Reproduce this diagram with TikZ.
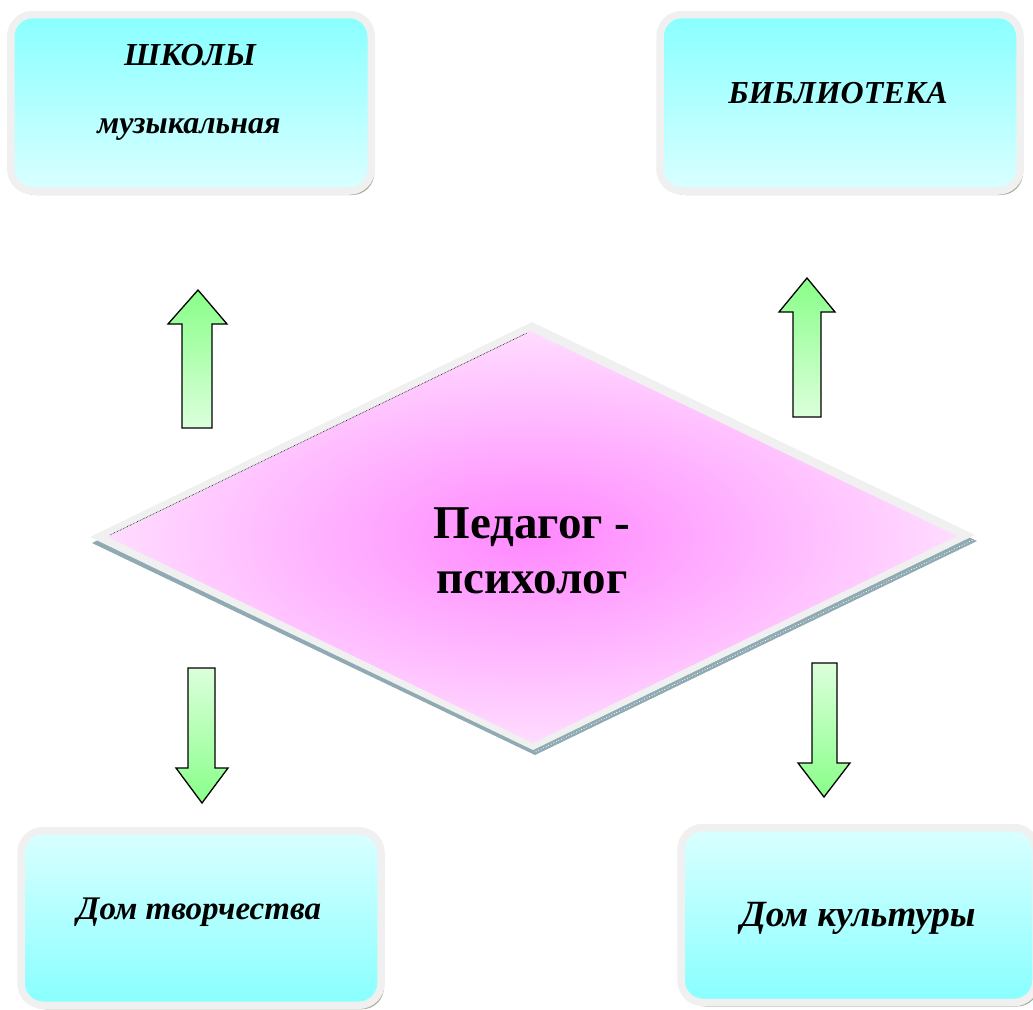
\documentclass[tikz,border=0pt]{standalone}
\usepackage{fontspec}
\setmainfont{Liberation Serif}
\usetikzlibrary{shadows}
\definecolor{cyanD}{HTML}{88FFFF}
\definecolor{cyanL}{HTML}{DAFFFF}
\definecolor{frameG}{HTML}{F0F0F0}
\definecolor{shadowO}{HTML}{A9AD98}
\definecolor{greenD}{HTML}{88FF88}
\definecolor{greenL}{HTML}{DCFFDC}
\definecolor{pinkD}{HTML}{FF88FF}
\definecolor{pinkL}{HTML}{FFDCFF}
\definecolor{dshadow}{HTML}{8FAAB2}
\tikzset{
  cbox/.style={rounded corners=22pt, draw=frameG, line width=7.5pt,
    drop shadow={shadow xshift=3pt, shadow yshift=-4pt, fill=shadowO, opacity=1}},
  cboxdown/.style={cbox, top color=cyanD, bottom color=cyanL},
  cboxup/.style={cbox, top color=cyanL, bottom color=cyanD},
  btext/.style={font=\bfseries\itshape\fontsize{32}{38}\selectfont, inner sep=0pt},
  ctext/.style={font=\bfseries\fontsize{47}{55}\selectfont, inner sep=0pt},
  gup/.style={draw=black, line width=1.3pt, line join=miter, top color=greenD, bottom color=greenL},
  gdown/.style={draw=black, line width=1.3pt, line join=miter, top color=greenL, bottom color=greenD},
}
\begin{document}
\begin{tikzpicture}[x=1pt,y=-1pt]
\useasboundingbox (0,0) rectangle (1033,1009);
% boxes
\node[cboxdown, minimum width=360.5pt, minimum height=176.5pt] (schools) at (191,102.75) {};
\node[cboxdown, minimum width=360pt, minimum height=176.5pt] (library) at (840,102.75) {};
\node[cboxup, minimum width=360pt, minimum height=174.5pt] (creat) at (201,918) {};
\node[cboxup, minimum width=355pt, minimum height=175pt] (culture) at (858.5,915) {};
\node[btext, anchor=base] (t1) at (190,65) {ШКОЛЫ};
\node[btext, anchor=base] (t2) at (189,133) {музыкальная};
\node[btext, anchor=base] (t3) at (838,103) {БИБЛИОТЕКА};
\node[btext, anchor=base, font=\bfseries\itshape\fontsize{33}{38}\selectfont] (t4) at (199,919) {Дом творчества};
\node[btext, anchor=base, font=\bfseries\itshape\fontsize{37}{42}\selectfont] (t5) at (858,926) {Дом культуры};
% diamond
\fill[dshadow] (534,327) -- (977,541) -- (535,755) -- (92,543) -- cycle;
\fill[frameG] (532,322) -- (975,535) -- (533,750) -- (90,537) -- cycle;
\draw[white, line width=0.8pt, dotted] (975,539) -- (534,752.5);
\shade[inner color=pinkD, outer color=pinkL] (530,331) -- (957,536) -- (533,743) -- (108,537) -- cycle;
\draw[black, line width=0.6pt, densely dotted] (110,535) -- (527,333);
\node[ctext, anchor=base] (ped1) at (532,538) {Педагог -};
\node[ctext, anchor=base] (ped2) at (532,593) {психолог};
% arrows
\path[gup] (198,290) -- (227,324) -- (212,324) -- (212,428) -- (182,428) -- (182,324) -- (168,324) -- cycle;
\path[gup] (807,278) -- (835,312) -- (821,312) -- (821,417) -- (793,417) -- (793,312) -- (779,312) -- cycle;
\path[gdown] (188,668) -- (215,668) -- (215,768) -- (228,768) -- (202,803) -- (176,768) -- (188,768) -- cycle;
\path[gdown] (812,663) -- (837,663) -- (837,763) -- (850,763) -- (824,797) -- (798,763) -- (812,763) -- cycle;
\end{tikzpicture}
\end{document}
